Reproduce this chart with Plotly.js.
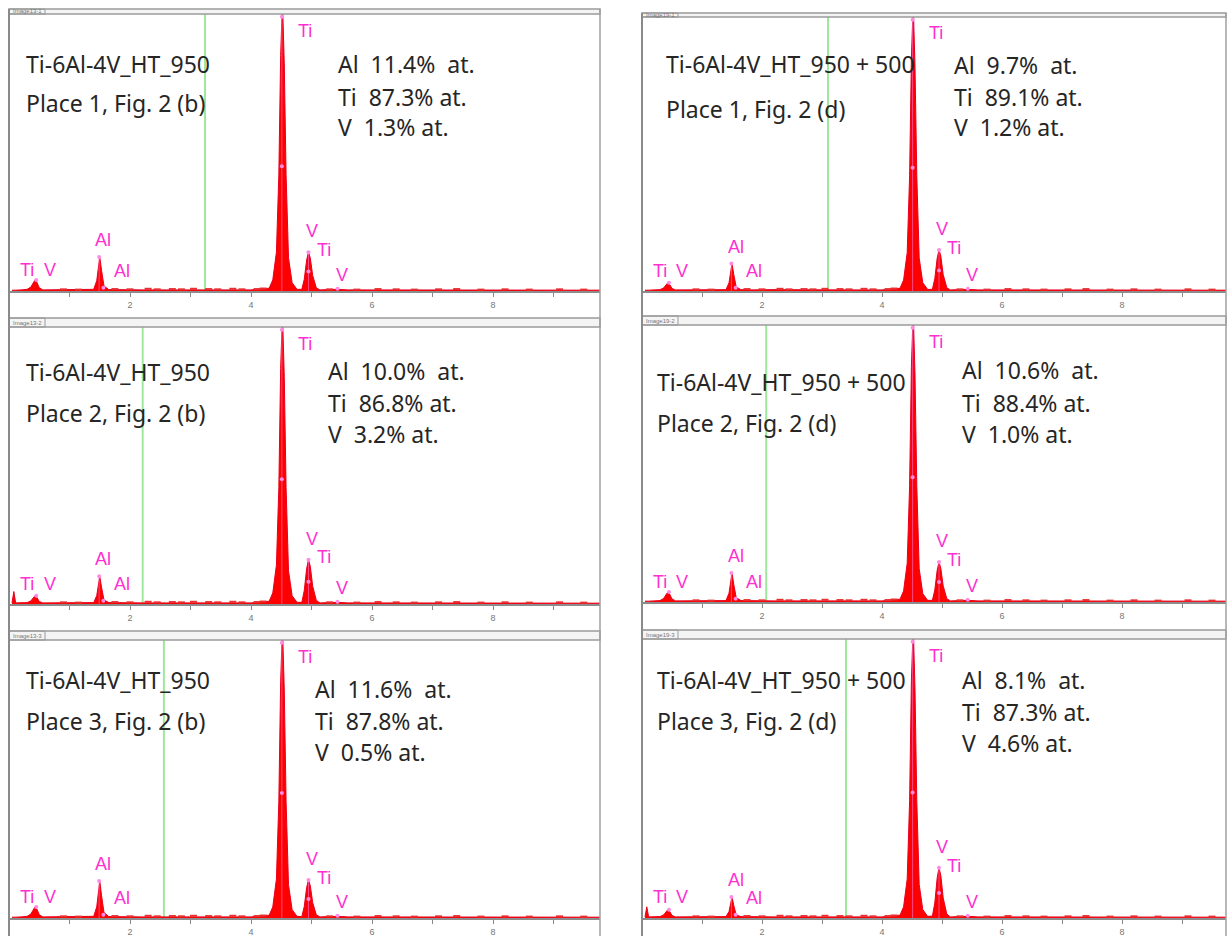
<!DOCTYPE html>
<html>
<head>
<meta charset="utf-8">
<script src="https://cdn.plot.ly/plotly-3.0.1.min.js"></script>
<style>
html,body{margin:0;padding:0;background:#fff;}
#chart{width:1229px;height:936px;}
</style>
</head>
<body>
<div id="chart"></div>
<script>
// ---------------- DATA ----------------
const panelIds = ['Image13-1', 'Image13-2', 'Image13-3', 'Image19-1', 'Image19-2', 'Image19-3'];
const sampleNames = ['Ti-6Al-4V_HT_950', 'Ti-6Al-4V_HT_950', 'Ti-6Al-4V_HT_950',
                     'Ti-6Al-4V_HT_950 + 500', 'Ti-6Al-4V_HT_950 + 500', 'Ti-6Al-4V_HT_950 + 500'];
const placeNames = ['Place 1, Fig. 2 (b)', 'Place 2, Fig. 2 (b)', 'Place 3, Fig. 2 (b)',
                    'Place 1, Fig. 2 (d)', 'Place 2, Fig. 2 (d)', 'Place 3, Fig. 2 (d)'];
const alAt = ['11.4%', '10.0%', '11.6%', '9.7%', '10.6%', '8.1%'];
const tiAt = ['87.3%', '86.8%', '87.8%', '89.1%', '88.4%', '87.3%'];
const vAt  = ['1.3%', '3.2%', '0.5%', '1.2%', '1.0%', '4.6%'];

// energy axis (keV) of the spectra
const energyKeV = [0.05,0.08,0.11,0.20,0.30,0.36,0.40,0.43,0.46,0.50,0.56,0.70,1.00,1.30,
  1.40,1.45,1.48,1.50,1.53,1.57,1.65,1.80,2.20,2.60,3.00,3.50,4.00,
  4.30,4.36,4.42,4.46,4.49,4.52,4.55,4.58,4.62,4.68,4.76,
  4.84,4.88,4.92,4.95,4.98,5.02,5.08,5.14,
  5.43,5.60,6.00,7.00,8.00,9.00,9.80];

// normalized counts (Ti Kα peak ≈ full scale)
const countsL1 = [0.003,0.004,0.003,0.004,0.006,0.014,0.032,0.040,0.032,0.012,0.004,0.004,0.004,0.004,
  0.006,0.037,0.105,0.123,0.074,0.018,0.005,0.004,0.004,0.004,0.004,0.004,0.004,
  0.010,0.040,0.140,0.420,0.850,1.050,0.820,0.420,0.120,0.030,0.006,
  0.006,0.042,0.112,0.140,0.119,0.056,0.011,0.004,
  0.006,0.004,0.004,0.004,0.003,0.003,0.003];
const countsL2 = [0.004,0.045,0.004,0.004,0.005,0.011,0.024,0.030,0.024,0.009,0.004,0.004,0.004,0.004,
  0.005,0.030,0.085,0.100,0.060,0.015,0.005,0.004,0.004,0.004,0.004,0.004,0.004,
  0.010,0.040,0.140,0.420,0.850,1.050,0.820,0.420,0.120,0.030,0.006,
  0.006,0.048,0.128,0.160,0.136,0.064,0.013,0.004,
  0.006,0.004,0.004,0.004,0.003,0.003,0.003];
const countsL3 = [0.003,0.004,0.003,0.004,0.006,0.014,0.032,0.040,0.032,0.012,0.004,0.004,0.004,0.004,
  0.006,0.040,0.113,0.133,0.080,0.020,0.005,0.004,0.004,0.004,0.004,0.004,0.004,
  0.010,0.040,0.140,0.420,0.850,1.050,0.820,0.420,0.120,0.030,0.006,
  0.005,0.041,0.110,0.137,0.116,0.055,0.011,0.004,
  0.006,0.004,0.004,0.004,0.003,0.003,0.003];
const countsR1 = [0.003,0.004,0.003,0.004,0.005,0.011,0.024,0.030,0.024,0.009,0.004,0.004,0.004,0.004,
  0.005,0.030,0.085,0.100,0.060,0.015,0.005,0.004,0.005,0.004,0.004,0.004,0.004,
  0.010,0.040,0.140,0.420,0.850,1.050,0.820,0.420,0.120,0.030,0.006,
  0.006,0.045,0.120,0.150,0.128,0.060,0.012,0.004,
  0.006,0.004,0.004,0.004,0.004,0.003,0.003];
const countsR2 = [0.003,0.004,0.003,0.004,0.005,0.013,0.029,0.036,0.029,0.011,0.004,0.004,0.004,0.004,
  0.005,0.032,0.089,0.105,0.063,0.016,0.005,0.004,0.004,0.004,0.004,0.004,0.004,
  0.010,0.040,0.140,0.420,0.850,1.050,0.820,0.420,0.120,0.030,0.006,
  0.006,0.043,0.115,0.144,0.122,0.058,0.012,0.004,
  0.006,0.004,0.004,0.004,0.004,0.003,0.003];
const countsR3 = [0.004,0.040,0.004,0.004,0.005,0.011,0.024,0.030,0.024,0.009,0.004,0.004,0.004,0.004,
  0.005,0.023,0.064,0.075,0.045,0.011,0.005,0.004,0.004,0.004,0.004,0.004,0.004,
  0.010,0.040,0.140,0.420,0.850,1.050,0.820,0.420,0.120,0.030,0.006,
  0.007,0.054,0.144,0.180,0.153,0.072,0.014,0.004,
  0.006,0.004,0.004,0.004,0.004,0.003,0.003];
const spectra = [countsL1, countsL2, countsL3, countsR1, countsR2, countsR3];

// peak heights used for line markers and element labels
const peakTiL = [0.040, 0.030, 0.040, 0.030, 0.036, 0.030];
const peakAl  = [0.123, 0.100, 0.133, 0.100, 0.105, 0.075];
const peakVTi = [0.140, 0.160, 0.137, 0.150, 0.144, 0.180];

// green cursor line (keV)
const cursorKeV = [3.24, 2.21, 2.56, 3.10, 2.07, 3.40];

// background noise specks
const noiseKeV = [0.90,1.15,1.75,2.00,2.30,2.45,2.70,2.85,3.05,3.30,3.45,3.70,3.85,4.10,4.20,
  5.30,5.75,6.10,6.40,6.70,7.10,7.40,7.80,8.20,8.60,9.10,9.50];
const noiseCounts = [0.006,0.005,0.007,0.006,0.008,0.006,0.007,0.006,0.008,0.007,0.006,0.008,0.006,0.007,0.009,
  0.006,0.005,0.007,0.006,0.005,0.006,0.007,0.005,0.006,0.005,0.006,0.005];

// element line energies (keV)
const lineTiL = 0.45, lineAlKa = 1.49, lineAlKb = 1.56, lineTiKa = 4.51, lineVTi = 4.95, lineVKb = 5.43;

// axis ticks
const tickValues = [1, 2, 3, 4, 5, 6, 7, 8, 9];
const tickLabels = ['', '2', '', '4', '', '6', '', '8', ''];

// ---------------- LAYOUT GEOMETRY (pixels) ----------------
const W = 1229, H = 936;
const X = p => p / W, Y = p => 1 - p / H;
const cols = [{x0: 9, x1: 600, keVpx: 60.5}, {x0: 642, x1: 1226, keVpx: 60}];
const panels = [
  {col: 0, top: 14, base: 291, hTop: 9, hBot: 14},
  {col: 0, top: 327, base: 604, hTop: 318, hBot: 327},
  {col: 0, top: 640, base: 918, hTop: 631, hBot: 640},
  {col: 1, top: 17, base: 291, hTop: 13, hBot: 17},
  {col: 1, top: 325, base: 602, hTop: 316, hBot: 325},
  {col: 1, top: 639, base: 918, hTop: 630, hBot: 639}
];
// text block positions (px)
const textPos = [
  {tx: 24, ty: 64, py: 103, cx: 336, cy: [64, 97, 127]},
  {tx: 24, ty: 372, py: 413, cx: 326, cy: [371, 403, 434]},
  {tx: 24, ty: 680, py: 721, cx: 313, cy: [689, 721, 752]},
  {tx: 664, ty: 64, py: 109, cx: 952, cy: [65, 97, 127]},
  {tx: 655, ty: 382, py: 423, cx: 960, cy: [370, 403, 434]},
  {tx: 655, ty: 680, py: 721, cx: 960, cy: [680, 712, 743]}
];

const traces = [];
const annotations = [];
const shapes = [];
const layout = {
  width: W, height: H,
  margin: {l: 0, r: 0, t: 0, b: 0},
  paper_bgcolor: '#ffffff', plot_bgcolor: '#ffffff',
  showlegend: false,
  font: {family: 'Noto Sans, sans-serif'}
};

const nb = '\u00a0';
const magenta = '#ff2fd0';

panels.forEach((p, i) => {
  const c = cols[p.col];
  const n = i + 1;
  const xa = 'x' + (n === 1 ? '' : n), ya = 'y' + (n === 1 ? '' : n);
  const xk = 'xaxis' + (n === 1 ? '' : n), yk = 'yaxis' + (n === 1 ? '' : n);
  layout[xk] = {
    domain: [X(c.x0), X(c.x1)], range: [0, (c.x1 - c.x0) / c.keVpx], anchor: ya,
    showgrid: false, zeroline: false, showline: true, linecolor: '#8c8c8c', linewidth: 2,
    ticks: 'outside', ticklen: 4, tickwidth: 1, tickcolor: '#888',
    tickvals: tickValues, ticktext: tickLabels,
    tickfont: {size: 9, color: '#777', family: 'Liberation Sans'}, fixedrange: true
  };
  layout[yk] = {domain: [Y(p.base), Y(p.top)], range: [0, 1], visible: false, anchor: xa, fixedrange: true};

  // green cursor
  traces.push({x: [cursorKeV[i], cursorKeV[i]], y: [0, 1], xaxis: xa, yaxis: ya, mode: 'lines',
    line: {color: '#9ee89e', width: 2}, hoverinfo: 'skip'});
  // spectrum
  traces.push({x: energyKeV, y: spectra[i], xaxis: xa, yaxis: ya, mode: 'lines', fill: 'tozeroy',
    fillcolor: '#ff0000', line: {color: '#e8001c', width: 1}, hoverinfo: 'skip'});
  // noise specks
  traces.push({x: noiseKeV, y: noiseCounts, xaxis: xa, yaxis: ya, mode: 'markers',
    marker: {symbol: 'line-ew', size: 5, line: {color: '#e83030', width: 2}}, hoverinfo: 'skip'});
  // element line markers (pink center lines)
  [[lineTiKa, 1], [lineVTi, peakVTi[i]], [lineAlKa, peakAl[i]]].forEach(([e, h]) => {
    traces.push({x: [e, e], y: [0, h], xaxis: xa, yaxis: ya, mode: 'lines',
      line: {color: 'rgba(255,120,225,0.6)', width: 1}, hoverinfo: 'skip'});
  });
  traces.push({x: [lineTiL, lineAlKa, lineAlKb, lineTiKa, lineTiKa, lineVTi, lineVTi, lineVKb],
    y: [peakTiL[i], peakAl[i], 0.012, 0.99, 0.45, peakVTi[i], peakVTi[i] * 0.5, 0.008],
    xaxis: xa, yaxis: ya, mode: 'markers', marker: {color: '#ff8ae6', size: 4}, hoverinfo: 'skip'});

  // element labels
  const lab = (t, x, y) => annotations.push({text: t, x: x, y: y, xref: xa, yref: ya, showarrow: false,
    xanchor: 'center', yanchor: 'middle', font: {family: 'Liberation Sans, Arial', size: 18, color: magenta}});
  lab('Ti', 4.9, 0.94);
  lab('V', 5.0, peakVTi[i] + 0.075);
  lab('Ti', 5.2, peakVTi[i] + 0.008);
  lab('V', 5.5, 0.057);
  lab('Al', 1.56, peakAl[i] + 0.062);
  lab('Al', 1.87, 0.072);
  lab('Ti', 0.3, 0.074);
  lab('V', 0.67, 0.074);

  // black text
  const tp = textPos[i];
  const txt = (t, x, y) => annotations.push({text: t, x: X(x), y: Y(y), xref: 'paper', yref: 'paper',
    showarrow: false, xanchor: 'left', yanchor: 'middle',
    font: {family: 'Noto Sans, sans-serif', size: 23, color: '#262626'}});
  txt(sampleNames[i].replace(/ /g, nb), tp.tx, tp.ty);
  txt(placeNames[i].replace(/ /g, nb), tp.tx, tp.py);
  txt('Al' + nb + nb + alAt[i] + nb + nb + 'at.', tp.cx, tp.cy[0]);
  txt('Ti' + nb + nb + tiAt[i] + nb + 'at.', tp.cx, tp.cy[1]);
  txt('V' + nb + nb + vAt[i] + nb + 'at.', tp.cx, tp.cy[2]);

  // header strip
  shapes.push({type: 'rect', xref: 'paper', yref: 'paper', x0: X(c.x0), x1: X(c.x1), y0: Y(p.hBot), y1: Y(p.hTop),
    line: {color: '#9a9a9a', width: 1.5}, fillcolor: '#f4f4f4', layer: 'above'});
  shapes.push({type: 'rect', xref: 'paper', yref: 'paper', x0: X(c.x0), x1: X(c.x0 + 36), y0: Y(p.hBot), y1: Y(p.hTop),
    line: {color: '#9a9a9a', width: 1}, fillcolor: 'rgba(0,0,0,0)', layer: 'above'});
  annotations.push({text: panelIds[i], x: X(c.x0 + 2), y: Y((p.hTop + p.hBot) / 2), xref: 'paper', yref: 'paper',
    showarrow: false, xanchor: 'left', yanchor: 'middle', font: {size: 6, color: '#777', family: 'Liberation Sans'}});
});

// column frames
cols.forEach((c, k) => {
  const topPx = k === 0 ? 9 : 13;
  shapes.push({type: 'line', xref: 'paper', yref: 'paper', x0: X(c.x0), x1: X(c.x0), y0: Y(topPx), y1: 0,
    line: {color: '#8a8a8a', width: 2}, layer: 'above'});
  shapes.push({type: 'line', xref: 'paper', yref: 'paper', x0: X(c.x1), x1: X(c.x1), y0: Y(topPx), y1: 0,
    line: {color: '#a0a0a0', width: 1.5}, layer: 'above'});
});

layout.annotations = annotations;
layout.shapes = shapes;

Plotly.newPlot('chart', traces, layout, {displayModeBar: false, staticPlot: true});
</script>
</body>
</html>
